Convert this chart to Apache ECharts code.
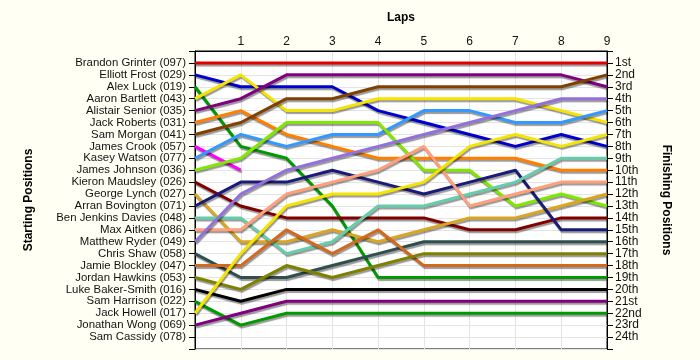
<!DOCTYPE html>
<html>
<head>
<meta charset="utf-8">
<script src="https://cdn.jsdelivr.net/npm/echarts@6/dist/echarts.min.js"></script>
<style>
html,body{margin:0;padding:0;background:#fffff4;}
#chart{width:700px;height:360px;}
</style>
</head>
<body>
<div id="chart"></div>
<script>
// Starting grid order (left axis labels)
const startLabels = ["Brandon Grinter (097)","Elliott Frost (029)","Alex Luck (019)","Aaron Bartlett (043)",
  "Alistair Senior (035)","Jack Roberts (031)","Sam Morgan (041)","James Crook (057)","Kasey Watson (077)",
  "James Johnson (036)","Kieron Maudsley (026)","George Lynch (027)","Arran Bovington (071)",
  "Ben Jenkins Davies (048)","Max Aitken (086)","Matthew Ryder (049)","Chris Shaw (058)",
  "Jamie Blockley (047)","Jordan Hawkins (053)","Luke Baker-Smith (016)","Sam Harrison (022)",
  "Jack Howell (017)","Jonathan Wong (069)","Sam Cassidy (078)"];
// Finishing positions (right axis labels)
const finishLabels = ["1st","2nd","3rd","4th","5th","6th","7th","8th","9th","10th","11th","12th",
  "13th","14th","15th","16th","17th","18th","19th","20th","21st","22nd","23rd","24th"];
// Laps (x axis): lap 0 is the start
const laps = [0,1,2,3,4,5,6,7,8,9];

// Position of each driver at the start (lap 0) and after each lap
const posGrinter   = [1,1,1,1,1,1,1,1,1,1];
const posFrost     = [2,3,3,3,5,6,7,8,7,8];
const posLuck      = [3,8,9,13,19,19,19,19,19,19];
const posBartlett  = [4,2,5,5,4,4,4,4,5,6];
const posSenior    = [5,4,2,2,2,2,2,2,2,3];
const posRoberts   = [6,5,7,8,9,9,9,9,10,10];
const posMorgan    = [7,6,4,4,3,3,3,3,3,2];
const posCrook     = [8,10];
const posWatson    = [9,7,8,7,7,5,5,6,6,5];
const posJohnson   = [10,9,6,6,6,10,10,13,12,13];
const posMaudsley  = [11,13,14,14,14,14,15,15,14,14];
const posLynch     = [12,16,16,15,16,15,14,14,13,12];
const posBovington = [13,11,11,10,11,12,11,10,15,15];
const posJenkins   = [14,14,17,16,13,13,12,11,9,9];
const posAitken    = [15,15,12,11,10,8,13,12,11,11];
const posRyder     = [16,12,10,9,8,7,6,5,4,4];
const posShaw      = [17,19,19,18,17,16,16,16,16,16];
const posBlockley  = [18,18,15,17,15,18,18,18,18,18];
const posHawkins   = [19,20,18,19,18,17,17,17,17,17];
const posBaker     = [20,21,20,20,20,20,20,20,20,20];
const posHarrison  = [21,23,22,22,22,22,22,22,22,22];
const posHowell    = [22,17,13,12,12,11,8,7,8,7];
const posWong      = [23,22,21,21,21,21,21,21,21,21];

const driverSeries = [
  [startLabels[0], posGrinter, '#e00000'],
  [startLabels[1], posFrost, '#0000cc'],
  [startLabels[2], posLuck, '#009900'],
  [startLabels[3], posBartlett, '#f5e400'],
  [startLabels[4], posSenior, '#800080'],
  [startLabels[5], posRoberts, '#ff8000'],
  [startLabels[6], posMorgan, '#804000'],
  [startLabels[7], posCrook, '#ff00ff'],
  [startLabels[8], posWatson, '#3399ff'],
  [startLabels[9], posJohnson, '#80e800'],
  [startLabels[10], posMaudsley, '#800000'],
  [startLabels[11], posLynch, '#daa520'],
  [startLabels[12], posBovington, '#1a1a78'],
  [startLabels[13], posJenkins, '#66cdaa'],
  [startLabels[14], posAitken, '#ffa07a'],
  [startLabels[15], posRyder, '#9370db'],
  [startLabels[16], posShaw, '#2f4f4f'],
  [startLabels[17], posBlockley, '#d2691e'],
  [startLabels[18], posHawkins, '#808000'],
  [startLabels[19], posBaker, '#000000'],
  [startLabels[20], posHarrison, '#009900'],
  [startLabels[21], posHowell, '#f5e400'],
  [startLabels[22], posWong, '#800080']
];

const FONT = 'Liberation Sans';
const chart = echarts.init(document.getElementById('chart'));
chart.setOption({
  backgroundColor: '#fffff4',
  animation: false,
  grid: {left: 195, right: 93, top: 51, bottom: 11, show: true,
         backgroundColor: '#ffffff', borderColor: '#000', borderWidth: 1},
  xAxis: {
    type: 'value', position: 'top', min: 0, max: 9, interval: 1,
    name: 'Laps', nameLocation: 'middle', nameGap: 27,
    nameTextStyle: {fontFamily: FONT, fontWeight: 'bold', fontSize: 12, color: '#000'},
    axisLine: {show: true, lineStyle: {color: '#000'}},
    axisTick: {show: false},
    axisLabel: {fontFamily: FONT, fontSize: 12, color: '#111', margin: 3,
      formatter: v => (v === 0 ? '' : String(laps[v]))},
    splitLine: {show: true, lineStyle: {color: '#e4e4e4', width: 1}}
  },
  yAxis: [{
    type: 'value', position: 'left', inverse: true, min: 0, max: 25, interval: 1,
    name: 'Starting Positions', nameLocation: 'middle', nameGap: 160, nameRotate: 90,
    nameTextStyle: {fontFamily: FONT, fontWeight: 'bold', fontSize: 12, color: '#000'},
    axisLine: {show: true, lineStyle: {color: '#000'}},
    axisTick: {show: true, length: 6, lineStyle: {color: '#000'}},
    axisLabel: {fontFamily: FONT, fontSize: 11.4, color: '#111', margin: 9,
      formatter: v => (v >= 1 && v <= 24 ? startLabels[v - 1] : '')},
    splitLine: {show: true, lineStyle: {color: '#e4e4e4', width: 1}}
  }, {
    type: 'value', position: 'right', inverse: true, min: 0, max: 25, interval: 1,
    name: 'Finishing Positions', nameLocation: 'middle', nameGap: 53, nameRotate: -90,
    nameTextStyle: {fontFamily: FONT, fontWeight: 'bold', fontSize: 12, color: '#000'},
    axisLine: {show: true, lineStyle: {color: '#000'}},
    axisTick: {show: true, length: 6, lineStyle: {color: '#000'}},
    axisLabel: {fontFamily: FONT, fontSize: 12, color: '#111', margin: 8,
      formatter: v => (v >= 1 && v <= 24 ? finishLabels[v - 1] : '')},
    splitLine: {show: false}
  }],
  series: driverSeries.map(([name, pos, color]) => ({
    name: name, type: 'line', yAxisIndex: 0, symbol: 'none',
    data: pos.map((p, i) => [laps[i], p]),
    lineStyle: {color: color, width: 3, shadowColor: 'rgba(0,0,0,0.4)',
                shadowOffsetX: 1, shadowOffsetY: 2, shadowBlur: 1},
    itemStyle: {color: color}
  }))
});
</script>
</body>
</html>
